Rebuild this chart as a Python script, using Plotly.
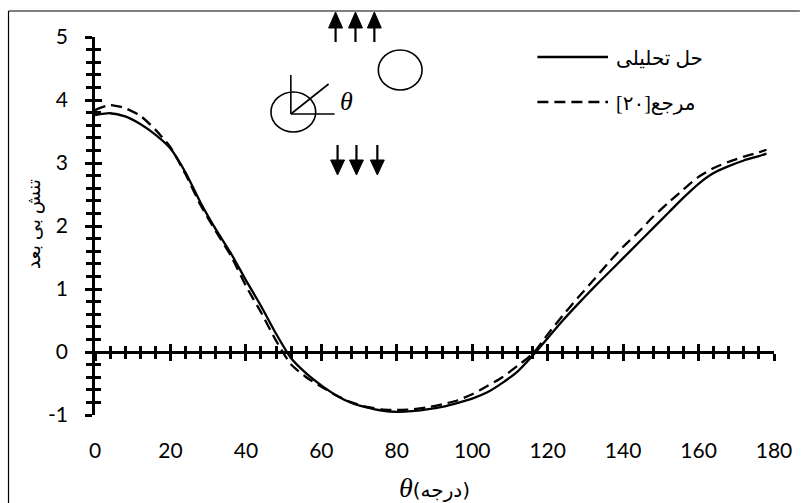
import plotly.graph_objects as go

# ---- data -------------------------------------------------------------
theta = [0, 4, 8, 12, 16, 20, 24, 28, 32, 36, 40, 44, 48, 52, 56, 60, 64, 68,
         72, 76, 80, 84, 88, 92, 96, 100, 104, 108, 112, 116, 120, 124, 128,
         132, 136, 140, 144, 148, 152, 156, 160, 164, 168, 172, 176, 178]

stress_analytic = [3.76, 3.79, 3.74, 3.62, 3.45, 3.23, 2.85, 2.37, 1.95, 1.57,
                   1.14, 0.73, 0.29, -0.10, -0.34, -0.53, -0.69, -0.81, -0.88,
                   -0.93, -0.95, -0.94, -0.91, -0.87, -0.81, -0.74, -0.64, -0.49,
                   -0.31, -0.06, 0.22, 0.50, 0.76, 1.01, 1.25, 1.49, 1.73, 1.97,
                   2.21, 2.45, 2.67, 2.84, 2.95, 3.04, 3.11, 3.15]

stress_ref20 = [3.84, 3.92, 3.87, 3.75, 3.53, 3.25, 2.82, 2.33, 1.92, 1.53,
                1.05, 0.63, 0.18, -0.20, -0.40, -0.55, -0.69, -0.80, -0.87,
                -0.91, -0.92, -0.91, -0.88, -0.83, -0.77, -0.67, -0.54, -0.40,
                -0.22, -0.03, 0.28, 0.58, 0.86, 1.13, 1.41, 1.67, 1.90, 2.15,
                2.37, 2.58, 2.78, 2.92, 3.02, 3.10, 3.17, 3.21]

x_ticks = [0, 20, 40, 60, 80, 100, 120, 140, 160, 180]
y_ticks = [-1, 0, 1, 2, 3, 4, 5]
x_range = [0, 180]
y_range = [-1, 5]

name_analytic = "حل تحلیلی"
name_ref20 = "\u200fمرجع[۲۰]\u200f"
y_title = "تنش بی بعد"
x_title_unit = "(درجه)"

# ---- page geometry -----------------------------------------------------
W, H = 804, 503
ML, MR, MT, MB = 95, 26, 37, 88
PW, PH = W - ML - MR, H - MT - MB


def fx(px):
    return (px - ML) / PW


def fy(py):
    return (H - MB - py) / PH


NUM_FONT = dict(family="Lato, Open Sans, sans-serif", size=21, color="black")
AR_FONT = "Times New Roman, Liberation Serif, DejaVu Sans"
LW = 2.6

fig = go.Figure()

fig.add_trace(go.Scatter(
    x=theta, y=stress_analytic, mode="lines", name=name_analytic,
    line=dict(color="black", width=2.3, shape="spline", smoothing=0.6),
    showlegend=False, hoverinfo="skip"))
fig.add_trace(go.Scatter(
    x=theta, y=stress_ref20, mode="lines", name=name_ref20,
    line=dict(color="black", width=2.3, dash="11px,6px", shape="spline", smoothing=0.6),
    showlegend=False, hoverinfo="skip"))

# placeholder traces so the overlay axes get drawn
for xa, ya in (("x2", "y"), ("x3", "y"), ("x", "y2")):
    fig.add_trace(go.Scatter(x=[None], y=[None], xaxis=xa, yaxis=ya,
                             showlegend=False, hoverinfo="skip"))

zero_pos = (0 - y_range[0]) / (y_range[1] - y_range[0])


def cross_x(ticks):
    return dict(
        overlaying="x", anchor="free", position=zero_pos, side="bottom",
        range=x_range, showline=True, linecolor="black", linewidth=LW,
        tickvals=x_ticks, ticks=ticks, ticklen=7, tickwidth=LW, tickcolor="black",
        showticklabels=False, showgrid=False, zeroline=False,
        minor=dict(tickmode="linear", tick0=0, dtick=4, ticks=ticks, ticklen=5,
                   tickwidth=LW, tickcolor="black", showgrid=False))


fig.update_layout(
    width=W, height=H, autosize=False,
    margin=dict(l=ML, r=MR, t=MT, b=MB, pad=0),
    paper_bgcolor="white", plot_bgcolor="white",
    showlegend=False,
    xaxis=dict(range=x_range, tickvals=x_ticks, ticktext=[str(v) for v in x_ticks],
               showline=False, ticks="", showgrid=False, zeroline=False,
               tickfont=NUM_FONT, ticklabelstandoff=21),
    xaxis2=cross_x("outside"),
    xaxis3=dict(cross_x("inside"), overlaying="x"),
    yaxis=dict(range=y_range, tickvals=y_ticks, ticktext=[str(v) for v in y_ticks],
               showline=True, linecolor="black", linewidth=LW,
               ticks="outside", ticklen=7, tickwidth=LW, tickcolor="black",
               minor=dict(tickmode="linear", tick0=0, dtick=0.2, ticks="outside",
                          ticklen=6, tickwidth=LW, tickcolor="black", showgrid=False),
               showgrid=False, zeroline=False, tickfont=NUM_FONT,
               ticklabelstandoff=13),
    yaxis2=dict(overlaying="y", anchor="x", side="left", range=y_range,
                tickvals=y_ticks, showticklabels=False, showline=False,
                ticks="inside", ticklen=7, tickwidth=LW, tickcolor="black",
                minor=dict(tickmode="linear", tick0=0, dtick=0.2, ticks="inside",
                           ticklen=6, tickwidth=LW, tickcolor="black", showgrid=False),
                showgrid=False, zeroline=False),
)

shapes = []


def pline(x0, y0, x1, y1, width=1.5):
    shapes.append(dict(type="line", xref="paper", yref="paper",
                       x0=fx(x0), y0=fy(y0), x1=fx(x1), y1=fy(y1),
                       line=dict(color="black", width=width)))


def ptri(pts):
    d = "M " + " L ".join(f"{fx(a):.5f},{fy(b):.5f}" for a, b in pts) + " Z"
    shapes.append(dict(type="path", xref="paper", yref="paper", path=d,
                       fillcolor="black", line=dict(color="black", width=1)))


def pellipse(x0, y0, x1, y1):
    shapes.append(dict(type="circle", xref="paper", yref="paper",
                       x0=fx(x0), y0=fy(y1), x1=fx(x1), y1=fy(y0),
                       line=dict(color="black", width=1.6)))


# outer frame (top and left edges)
pline(8, 11, W, 11, 1.2)
pline(8, 11, 8, H, 1.2)

# loading sketch: tension arrows above and below
for xc in (337, 357, 376):
    pline(xc, 42, xc, 26, 2.2)
    ptri([(xc - 7, 28), (xc + 7, 28), (xc, 12)])
for xc in (339, 358, 379):
    pline(xc, 145, xc, 161, 2.2)
    ptri([(xc - 7, 160), (xc + 7, 160), (xc, 175)])

# holes and the angle definition
pellipse(380, 50, 424, 90)
pellipse(272, 92, 317, 132)
pline(292, 75, 292, 114, 1.6)
pline(292, 114, 336, 114, 1.6)
pline(292, 114, 330, 84, 1.6)

# legend samples
pline(540, 57, 611, 57, 2.3)
shapes.append(dict(type="line", xref="paper", yref="paper",
                   x0=fx(540), y0=fy(102), x1=fx(611), y1=fy(102),
                   line=dict(color="black", width=2.3, dash="11px,6px")))

fig.update_layout(shapes=shapes)

annotations = [
    dict(text="<i>θ</i>", x=fx(348), y=fy(101), xref="paper", yref="paper",
         showarrow=False, xanchor="center", yanchor="middle",
         font=dict(family="Liberation Serif, Times New Roman, serif", size=26, color="black")),
    dict(text=name_analytic, x=fx(617), y=fy(58), xref="paper", yref="paper",
         showarrow=False, xanchor="left", yanchor="middle",
         font=dict(family=AR_FONT, size=20, color="black")),
    dict(text=name_ref20, x=fx(617), y=fy(103), xref="paper", yref="paper",
         showarrow=False, xanchor="left", yanchor="middle",
         font=dict(family=AR_FONT, size=20, color="black")),
    dict(text=y_title, x=fx(34), y=fy(224), xref="paper", yref="paper",
         showarrow=False, textangle=-90, xanchor="center", yanchor="middle",
         font=dict(family=AR_FONT, size=19, color="black")),
    dict(text="<i>θ</i><span style='font-family:DejaVu Sans; font-size:20px'>"
              + x_title_unit + "</span>",
         x=fx(437), y=fy(487), xref="paper", yref="paper",
         showarrow=False, xanchor="center", yanchor="middle",
         font=dict(family="Liberation Serif, Times New Roman, serif", size=28, color="black")),
]
fig.update_layout(annotations=annotations)

fig.write_html("out.html")
